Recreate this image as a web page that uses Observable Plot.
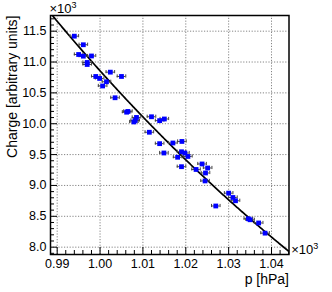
<!DOCTYPE html>
<html>
<head>
<meta charset="utf-8">
<script src="https://cdn.jsdelivr.net/npm/d3@7"></script>
<script src="https://cdn.jsdelivr.net/npm/@observablehq/plot@0.6"></script>
<style>
  html, body { margin: 0; padding: 0; background: #fff; }
  #chart { width: 332px; height: 292px; }
</style>
</head>
<body>
<div id="chart"></div>
<script>
// ---- data (pressure in hPa, charge in arbitrary units) ----
const pressure = [994.0, 996.1, 995.0, 996.1, 998.0, 997.0, 997.0, 999.0, 999.9, 1002.4,
  1005.0, 1001.5, 1000.6, 1003.5, 1006.2, 1006.5, 1008.5, 1008.2, 1007.9, 1012.0,
  1013.9, 1015.0, 1011.5, 1013.9, 1017.0, 1019.1, 1014.9, 1019.0, 1019.8, 1020.5,
  1018.1, 1019.0, 1022.4, 1023.8, 1025.1, 1024.6, 1024.5, 1027.0, 1030.0, 1031.0,
  1031.6, 1034.6, 1035.0, 1037.0, 1038.5];
const charge = [11419, 11280, 11122, 11095, 11098, 10993, 10960, 10766, 10734, 10836,
  10766, 10680, 10612, 10421, 10187, 10199, 10102, 10053, 10029, 10113,
  10050, 10077, 9862, 9677, 9688, 9713, 9526, 9546, 9526, 9470,
  9457, 9304, 9259, 9348, 9283, 9202, 9073, 8667, 8875, 8805,
  8752, 8460, 8444, 8392, 8227];
const pressureErr = 1.0;            // hPa, horizontal error
const fitAt1000 = 10858;            // exponential fit: charge at 1000 hPa
const fitRate = 0.007131;           // per hPa

const xMajor = [990, 1000, 1010, 1020, 1030, 1040];
const xTickLabels = ["0.99", "1.00", "1.01", "1.02", "1.03", "1.04"];
const yMajor = [8000, 8500, 9000, 9500, 10000, 10500, 11000, 11500];
const yTickLabels = ["8.0", "8.5", "9.0", "9.5", "10.0", "10.5", "11.0", "11.5"];
const xTitle = "p [hPa]";
const yTitle = "Charge [arbitrary units]";
const exponentText = "\u00d710";
const exponentPower = "3";

// ---- layout ----
const W = 332, H = 292;
const mL = 50, mR = 43.5, mT = 15, mB = 38;
const innerW = W - mL - mR, innerH = H - mT - mB;
const xDomain = [988.44, 1044.08];
const yDomain = [7881, 11754];
const font = "'Liberation Sans', Arial, Helvetica, sans-serif";

const points = pressure.map((p, i) => ({p, c: charge[i]}));
const xMinor = d3.range(990, 1045, 2).filter(v => v % 10 !== 0 && v <= xDomain[1]);
const yMinor = d3.range(7900, 11800, 100).filter(v => v % 500 !== 0 && v <= yDomain[1]);
const fitCurve = d3.range(xDomain[0], xDomain[1] + 0.25, 0.25)
  .map(p => ({p, c: fitAt1000 * Math.exp(-fitRate * (p - 1000))}));
const capHalf = 1.6 * (yDomain[1] - yDomain[0]) / innerH;

const majorLen = 7, minorLen = 4;
const gridStyle = {stroke: "#777", strokeWidth: 0.9, strokeDasharray: "1.2,1.6"};

const chart = Plot.plot({
  width: W, height: H,
  marginLeft: mL, marginRight: mR, marginTop: mT, marginBottom: mB,
  style: {fontFamily: font, fontSize: "12.5px", background: "#fff", color: "#000"},
  x: {domain: xDomain, ticks: xMajor, tickSize: 0, tickPadding: 5,
      tickFormat: d => xTickLabels[xMajor.indexOf(d)], label: null},
  y: {domain: yDomain, ticks: yMajor, tickSize: 0, tickPadding: 4,
      tickFormat: d => yTickLabels[yMajor.indexOf(d)], label: null},
  marks: [
    // grid
    Plot.ruleX(xMajor, gridStyle),
    Plot.ruleY(yMajor, gridStyle),
    // inward ticks
    Plot.ruleX(xMajor, {stroke: "#000", strokeWidth: 1, insetTop: innerH - majorLen}),
    Plot.ruleX(xMinor, {stroke: "#000", strokeWidth: 1, insetTop: innerH - minorLen}),
    Plot.ruleY(yMajor, {stroke: "#000", strokeWidth: 1, insetRight: innerW - majorLen}),
    Plot.ruleY(yMinor, {stroke: "#000", strokeWidth: 1, insetRight: innerW - minorLen}),
    // fit
    Plot.line(fitCurve, {x: "p", y: "c", stroke: "#000", strokeWidth: 1.7, clip: true}),
    // error bars
    Plot.ruleY(points, {y: "c", x1: d => d.p - pressureErr, x2: d => d.p + pressureErr,
      stroke: "#444", strokeWidth: 1}),
    Plot.ruleX(points, {x: d => d.p - pressureErr, y1: d => d.c - capHalf, y2: d => d.c + capHalf,
      stroke: "#444", strokeWidth: 1}),
    Plot.ruleX(points, {x: d => d.p + pressureErr, y1: d => d.c - capHalf, y2: d => d.c + capHalf,
      stroke: "#444", strokeWidth: 1}),
    // markers
    Plot.dot(points, {x: "p", y: "c", symbol: "square", r: 2.7, fill: "#0000ff", stroke: null}),
    // frame
    Plot.frame({stroke: "#000", strokeWidth: 1.5}),
    // exponent labels
    Plot.text([exponentText], {frameAnchor: "top-left", textAnchor: "start", lineAnchor: "middle",
      dx: -1, dy: -6.2, fontSize: 13, fill: "#000"}),
    Plot.text([exponentPower], {frameAnchor: "top-left", textAnchor: "start", lineAnchor: "middle",
      dx: 21, dy: -10, fontSize: 9, fill: "#000"}),
    Plot.text([exponentText], {frameAnchor: "bottom-right", textAnchor: "start", lineAnchor: "middle",
      dx: 2.2, dy: -4.2, fontSize: 13, fill: "#000"}),
    Plot.text([exponentPower], {frameAnchor: "bottom-right", textAnchor: "start", lineAnchor: "middle",
      dx: 24.2, dy: -8, fontSize: 9, fill: "#000"}),
    // axis titles
    Plot.text([xTitle], {frameAnchor: "bottom-right", textAnchor: "end", lineAnchor: "middle",
      dx: 0, dy: 25.5, fontSize: 14, fill: "#000"}),
    Plot.text([yTitle], {frameAnchor: "top-left", textAnchor: "end", lineAnchor: "middle",
      rotate: -90, dx: -38, dy: 0, fontSize: 14, fill: "#000"})
  ]
});
document.getElementById("chart").appendChild(chart);
</script>
</body>
</html>
